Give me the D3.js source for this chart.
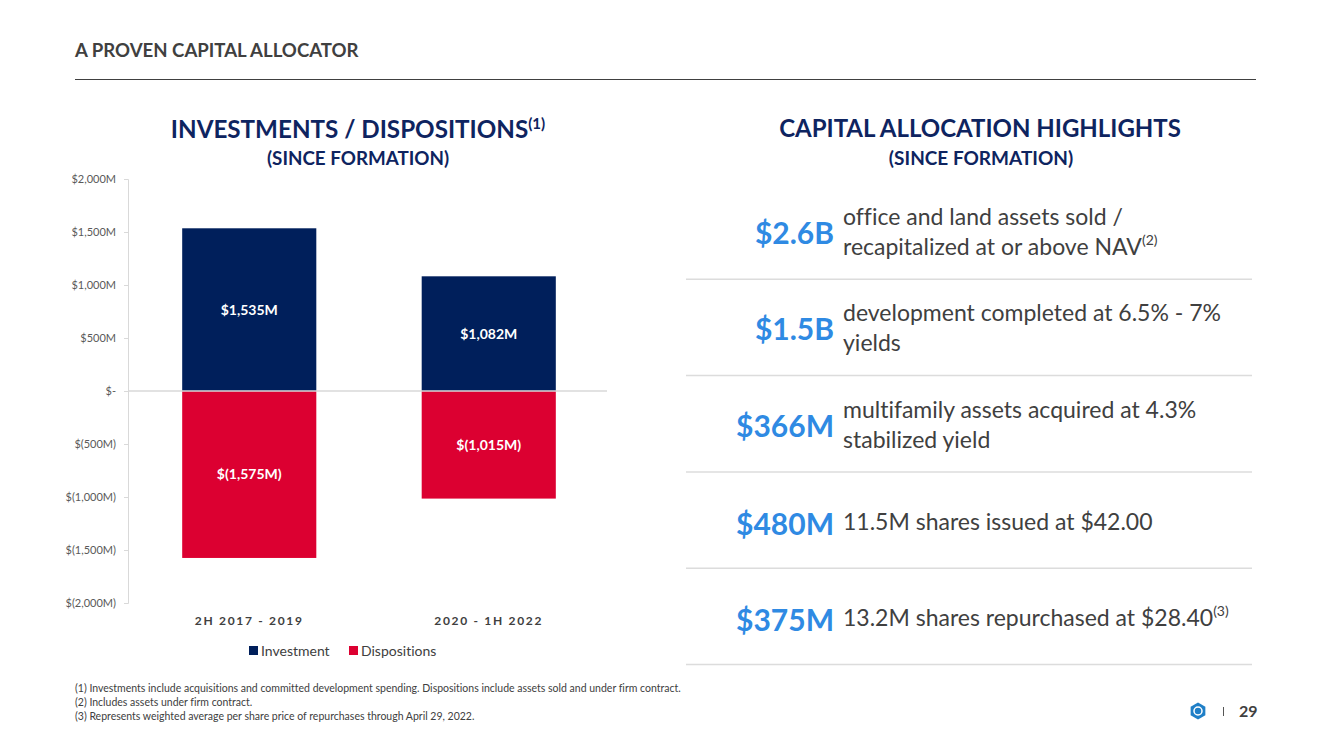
<!DOCTYPE html>
<html><head><meta charset="utf-8">
<script src="https://cdn.jsdelivr.net/npm/d3@7"></script>
<style>
html,body{margin:0;padding:0;background:#fff;}
svg{display:block;font-family:Lato,"Open Sans",sans-serif;font-variant-ligatures:none;}
</style></head>
<body>
<svg id="c" width="1331" height="748"></svg>
<script>
const categories = ["2H 2017 - 2019", "2020 - 1H 2022"];
const investment = [1535, 1082];
const dispositions = [-1575, -1015];
const yTicks = [2000, 1500, 1000, 500, 0, -500, -1000, -1500, -2000];
const seriesNames = ["Investment", "Dispositions"];
const highlightValues = ["$2.6B", "$1.5B", "$366M", "$480M", "$375M"];
const highlightLines = [
  [["office and land assets sold /"], ["recapitalized at or above NAV", "(2)"]],
  [["development completed at 6.5% - 7%"], ["yields"]],
  [["multifamily assets acquired at 4.3%"], ["stabilized yield"]],
  [["11.5M shares issued at $42.00"]],
  [["13.2M shares repurchased at $28.40", "(3)"]]
];
const footnotes = [
  "(1) Investments include acquisitions and committed development spending. Dispositions include assets sold and under firm contract.",
  "(2) Includes assets under firm contract.",
  "(3) Represents weighted average per share price of repurchases through April 29, 2022."
];

const NAVY = "#001f5b", RED = "#dc0031", TITLE = "#0e2460", GRAY = "#404040", BLUE = "#2f8ae3";
const svg = d3.select("#c");

// Header
svg.append("text").attr("x", 75).attr("y", 57).attr("font-size", 18.6).attr("font-weight", 700)
  .attr("fill", GRAY).text("A PROVEN CAPITAL ALLOCATOR");
svg.append("line").attr("x1", 75).attr("x2", 1256).attr("y1", 79.5).attr("y2", 79.5)
  .attr("stroke", "#404040").attr("stroke-width", 1);

// Chart titles
const t1 = svg.append("text").attr("x", 358).attr("y", 138).attr("text-anchor", "middle")
  .attr("font-size", 24.2).attr("font-weight", 700).attr("fill", TITLE);
t1.append("tspan").text("INVESTMENTS / DISPOSITIONS");
t1.append("tspan").attr("font-size", 15).attr("dy", -9).text("(1)");
svg.append("text").attr("x", 358).attr("y", 165).attr("text-anchor", "middle")
  .attr("font-size", 18.8).attr("font-weight", 700).attr("fill", TITLE).text("(SINCE FORMATION)");

// Scales
const x = d3.scaleBand().domain(categories).range([128, 607]).paddingInner(0.44).paddingOuter(0.22);
const y = d3.scaleLinear().domain([-2000, 2000]).range([603, 179]);

const fmt = d3.format(",");
const money = v => v === 0 ? "$-" : v < 0 ? "$(" + fmt(-v) + "M)" : "$" + fmt(v) + "M";

// Y axis
const yAxis = d3.axisLeft(y).tickValues(yTicks).tickFormat(money).tickSize(4).tickPadding(8);
const gy = svg.append("g").attr("transform", "translate(128,0)").call(yAxis);
gy.select(".domain").attr("stroke", "#d9d9d9");
gy.selectAll(".tick line").attr("stroke", "#d9d9d9");
gy.selectAll(".tick text").attr("fill", "#595959").attr("font-size", 11)
  .attr("font-family", "Lato,'Open Sans',sans-serif");

// Bars
const gb = svg.append("g");
gb.selectAll("rect.inv").data(categories).join("rect").attr("class", "inv")
  .attr("x", d => x(d) + 1.5).attr("width", x.bandwidth())
  .attr("y", (d, i) => y(investment[i])).attr("height", (d, i) => y(0) - y(investment[i]))
  .attr("fill", NAVY);
gb.selectAll("rect.dis").data(categories).join("rect").attr("class", "dis")
  .attr("x", d => x(d) + 1.5).attr("width", x.bandwidth())
  .attr("y", y(0)).attr("height", (d, i) => y(dispositions[i]) - y(0))
  .attr("fill", RED);

// zero line
svg.append("line").attr("x1", 128).attr("x2", 607).attr("y1", y(0)).attr("y2", y(0))
  .attr("stroke", "#d9d9d9").attr("stroke-width", 1.5);

// Bar labels
const lbl = (vals) => gb.append("g").selectAll("text").data(categories).join("text")
  .attr("x", d => x(d) + 1.5 + x.bandwidth() / 2)
  .attr("y", (d, i) => (y(vals[i]) + y(0)) / 2 + 5)
  .attr("text-anchor", "middle").attr("fill", "#fff").attr("font-size", 14).attr("font-weight", 700)
  .text((d, i) => money(vals[i]));
lbl(investment); lbl(dispositions);

// X axis labels
svg.append("g").selectAll("text").data(categories).join("text")
  .attr("x", d => x(d) + 1.5 + x.bandwidth() / 2).attr("y", 625).attr("text-anchor", "middle")
  .attr("font-size", 12).attr("font-weight", 700).attr("letter-spacing", 1.7).attr("fill", "#404040")
  .text(d => d);

// Legend
const legX = [249, 349], legC = [NAVY, RED];
const lg = svg.append("g");
seriesNames.forEach((n, i) => {
  lg.append("rect").attr("x", legX[i]).attr("y", 646).attr("width", 9).attr("height", 9).attr("fill", legC[i]);
  lg.append("text").attr("x", legX[i] + 12).attr("y", 656).attr("font-size", 14).attr("fill", "#404040").text(n);
});

// Footnotes
svg.append("g").selectAll("text").data(footnotes).join("text")
  .attr("x", 75).attr("y", (d, i) => 691.5 + i * 14).attr("font-size", 10.5).attr("fill", GRAY).text(d => d);

// Right panel titles
svg.append("text").attr("x", 980).attr("y", 137).attr("text-anchor", "middle")
  .attr("font-size", 24).attr("font-weight", 700).attr("fill", TITLE).text("CAPITAL ALLOCATION HIGHLIGHTS");
svg.append("text").attr("x", 981).attr("y", 165).attr("text-anchor", "middle")
  .attr("font-size", 19).attr("font-weight", 700).attr("fill", TITLE).text("(SINCE FORMATION)");

// Highlights rows
const rowTop = 183, rowH = 96.3;
highlightValues.forEach((v, i) => {
  const top = rowTop + i * rowH;
  const mid = top + rowH / 2;
  svg.append("text").attr("x", 834).attr("y", mid + 13 + (i >= 3 ? 2 : 0)).attr("text-anchor", "end")
    .attr("font-size", 30).attr("font-weight", 700).attr("fill", BLUE).text(v);
  const lines = highlightLines[i];
  lines.forEach((ln, j) => {
    const by = lines.length === 1 ? mid + 10 : mid - 6 + j * 30;
    const t = svg.append("text").attr("x", 843).attr("y", by).attr("font-size", 23).attr("fill", GRAY);
    t.append("tspan").text(ln[0]);
    if (ln[1]) t.append("tspan").attr("font-size", 14).attr("dy", -10).text(ln[1]);
  });
  svg.append("line").attr("x1", 686).attr("x2", 1252).attr("y1", top + rowH).attr("y2", top + rowH)
    .attr("stroke", "#dcdcdc").attr("stroke-width", 1.5);
});

// Logo & page number
const hex = d3.range(6).map(k => {
  const a = Math.PI / 3 * k + Math.PI / 6;
  return [1198 + 8.5 * Math.cos(a), 711 + 8.5 * Math.sin(a)];
});
svg.append("path").attr("d", d3.line()(hex) + "Z").attr("fill", "#1f7fc7");
svg.append("circle").attr("cx", 1198).attr("cy", 711).attr("r", 4).attr("fill", "none").attr("stroke", "#fff").attr("stroke-width", 1.5);
svg.append("line").attr("x1", 1223.5).attr("x2", 1223.5).attr("y1", 707).attr("y2", 716).attr("stroke", "#555").attr("stroke-width", 1);
svg.append("text").attr("x", 1239).attr("y", 717).attr("font-size", 16).attr("font-weight", 700).attr("fill", GRAY).text("29");
</script>
</body></html>
